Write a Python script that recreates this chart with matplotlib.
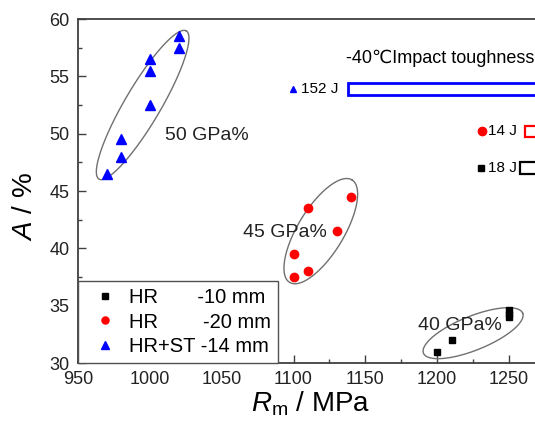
import numpy as np
import matplotlib
matplotlib.use("Agg")
import matplotlib.pyplot as plt
from matplotlib.ticker import MultipleLocator
from matplotlib.transforms import ScaledTranslation

plt.rcParams["font.family"] = ["Liberation Sans", "DejaVu Sans"]
plt.rcParams["mathtext.fontset"] = "custom"
plt.rcParams["mathtext.rm"] = "Liberation Sans"
plt.rcParams["mathtext.it"] = "Liberation Sans:italic"

# --- data ---------------------------------------------------------------------
hr10_rm = [1200, 1210, 1250, 1250, 1250]
hr10_a = [31.0, 32.0, 34.0, 34.3, 34.6]
hr20_rm = [1100, 1100, 1110, 1110, 1130, 1140]
hr20_a = [37.5, 39.5, 38.0, 43.5, 41.5, 44.5]
hrst_rm = [970, 980, 980, 1000, 1000, 1000, 1020, 1020]
hrst_a = [46.5, 48.0, 49.5, 52.5, 55.5, 56.5, 57.5, 58.5]

series_labels = ["HR       -10 mm", "HR        -20 mm", "HR+ST -14 mm"]
series_colors = ["black", "red", "blue"]
series_markers = ["s", "o", "^"]

group_labels = ["40 GPa%", "45 GPa%", "50 GPa%"]
impact_j = [18, 14, 152]          # -40 C impact toughness per series

# ellipse outlines (center in data, semi-axes/angle in pixels)
ell_center = [(1225, 32.6), (1119, 41.5), (995, 52.5)]
ell_axes = [(53.5, 17.0), (60.0, 23.0), (86.0, 18.0)]
ell_angle = [22.0, 58.7, 59.5]
group_text_xy = [(1186.5, 33.3), (1065, 41.4), (1010.5, 49.8)]

bar_y = [47.0, 50.2, 53.9]
bar_right, mpa_per_j = 1274.0, 0.894
lab_text_off = [-3, -9, -10]      # px, text right edge from bar left
lab_mark_off = [-39, -43, -55]    # px, marker from bar left
lab_mark_size = [5, 6, 4]

# --- figure --------------------------------------------------------------------
W, H = 535, 429
fig = plt.figure(figsize=(W / 100, H / 100), dpi=100)
px_per_x = 431 / 300.0
px_per_y = 344 / 30.0
xmax = 1290
ax_w = (xmax - 950) * px_per_x
ax = fig.add_axes([78 / W, (H - 363) / H, ax_w / W, 344 / H])
ax.set_xlim(950, xmax)
ax.set_ylim(30, 60)

handles = []
for xs, ys, c, m, lab, ms in zip([hr10_rm, hr20_rm, hrst_rm], [hr10_a, hr20_a, hrst_a],
                                 series_colors, series_markers, series_labels, [5, 6, 7]):
    h, = ax.plot(xs, ys, ls="none", marker=m, color=c, ms=ms, label=lab, zorder=3)
    handles.append(h)

t = np.linspace(0, 2 * np.pi, 200)
for (cx, cy), (a, b), ang in zip(ell_center, ell_axes, ell_angle):
    p = np.deg2rad(ang)
    ex = cx + (a * np.cos(t) * np.cos(p) - b * np.sin(t) * np.sin(p)) / px_per_x
    ey = cy + (a * np.cos(t) * np.sin(p) + b * np.sin(t) * np.cos(p)) / px_per_y
    ax.plot(ex, ey, color="#707070", lw=1.0, zorder=2)

for lab, (x, y) in zip(group_labels, group_text_xy):
    ax.text(x, y, lab, fontsize=14, color="#222222", va="center", ha="left")

# impact toughness bars (right aligned, length proportional to J)
widths = [mpa_per_j * j for j in impact_j]
lefts = [bar_right - w for w in widths]
ax.barh(bar_y, widths, left=lefts, height=1.0, facecolor="white",
        edgecolor=series_colors, linewidth=[1.6, 1.6, 2.0], zorder=2)
for j, l, y, c, m, to, mo, s in zip(impact_j, lefts, bar_y, series_colors, series_markers,
                                     lab_text_off, lab_mark_off, lab_mark_size):
    ax.annotate(f"{j} J", (l, y), xytext=(to * 0.72, 0), textcoords="offset points",
                ha="right", va="center", fontsize=11)
    ax.plot([l], [y], ls="none", marker=m, color=c, ms=s,
            transform=ax.transData + ScaledTranslation(mo / 100, 0, fig.dpi_scale_trans))
ax.text(1136.5, 56.6, "-40\u2103Impact toughness", fontsize=13, va="center", ha="left")

# axes styling
ax.xaxis.set_major_locator(MultipleLocator(50))
ax.xaxis.set_minor_locator(MultipleLocator(25))
ax.yaxis.set_major_locator(MultipleLocator(5))
ax.yaxis.set_minor_locator(MultipleLocator(2.5))
ax.tick_params(which="both", direction="in", colors="#404040", labelcolor="#222222",
               labelsize=13, pad=6)
ax.tick_params(which="major", length=6, width=1)
ax.tick_params(which="minor", length=3, width=1)
for s in ax.spines.values():
    s.set_color("#404040")
    s.set_linewidth(1.3)

ax.set_xlabel(r"$R_\mathrm{m}$ / MPa", fontsize=20)
ax.set_ylabel(r"$A$ / %", fontsize=20)
ax.xaxis.set_label_coords(233 / ax_w, -27 / 344)
ax.yaxis.set_label_coords(-40 / ax_w, 0.456)

leg = ax.legend(handles=handles, loc="lower left", bbox_to_anchor=(0, 0),
                bbox_transform=ax.transAxes, borderaxespad=0, fontsize=14.5,
                markerscale=0.85, handlelength=2.0, handletextpad=0.2,
                labelspacing=0.27, borderpad=0.35, fancybox=False, framealpha=1)
leg.get_frame().set_edgecolor("#505050")
leg.get_frame().set_linewidth(1.0)

fig.savefig("out.png", dpi=100)
